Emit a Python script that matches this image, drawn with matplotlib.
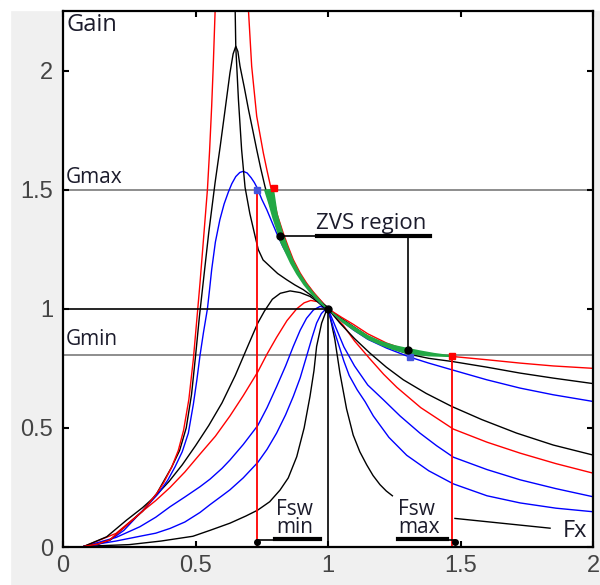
import matplotlib
matplotlib.use("Agg")
import matplotlib.pyplot as plt
from matplotlib.patches import Rectangle
import numpy as np

# gain curves (normalised frequency, gain)
red_a_x = [0.08, 0.13, 0.177, 0.234, 0.30, 0.354, 0.38, 0.41, 0.435, 0.455, 0.475, 0.492, 0.507, 0.517, 0.53,
           0.545, 0.553, 0.561, 0.567, 0.574, 0.60, 0.635, 0.67,
           0.70, 0.712, 0.731, 0.756, 0.77, 0.785, 0.81, 0.831, 0.85, 0.869, 0.895, 0.919, 0.945, 0.97, 1.0,
           1.05, 1.095, 1.15, 1.221, 1.28, 1.347, 1.467, 1.6, 1.725, 1.85, 2.0]
red_a_y = [0.003, 0.012, 0.03, 0.085, 0.15, 0.225, 0.27, 0.335, 0.405, 0.49, 0.62, 0.79, 0.98, 1.108, 1.29,
           1.5, 1.66, 1.85, 2.02, 2.25, 2.6, 2.9, 2.6,
           2.25, 2.018, 1.808, 1.654, 1.58, 1.505, 1.39, 1.318, 1.26, 1.206, 1.15, 1.108, 1.07, 1.038, 1.0,
           0.965, 0.935, 0.895, 0.856, 0.833, 0.815, 0.80, 0.786, 0.772, 0.76, 0.75]

peak_x = [0.649, 0.652, 0.662, 0.674, 0.687, 0.705, 0.725, 0.737, 0.755, 0.781, 0.81, 0.844, 0.875, 0.907,
          0.95, 0.995]
peak_y = [2.3, 2.10, 1.878, 1.668, 1.51, 1.40, 1.304, 1.248, 1.205, 1.178, 1.148, 1.122, 1.10, 1.08,
          1.045, 1.01]

black_b_x = [0.08, 0.13, 0.177, 0.234, 0.30, 0.354, 0.41, 0.44, 0.465, 0.485, 0.50, 0.515, 0.53, 0.55,
             0.574, 0.593, 0.611, 0.63, 0.642, 0.652, 0.66, 0.668, 0.684, 0.70, 0.716, 0.731, 0.746, 0.762,
             0.78, 0.80, 0.825, 0.85, 0.875, 0.90, 0.95, 1.0,
             1.05, 1.095, 1.15, 1.221, 1.303, 1.38, 1.467, 1.599, 1.725, 1.85, 2.0]
black_b_y = [0.003, 0.012, 0.03, 0.085, 0.15, 0.225, 0.335, 0.405, 0.50, 0.64, 0.80, 0.97, 1.12, 1.32,
             1.53, 1.68, 1.83, 1.99, 2.07, 2.102, 2.08, 2.018, 1.93, 1.836, 1.75, 1.668, 1.59, 1.514,
             1.44, 1.37, 1.29, 1.23, 1.175, 1.13, 1.06, 1.0,
             0.96, 0.926, 0.885, 0.842, 0.81, 0.792, 0.779, 0.755, 0.73, 0.709, 0.686]

blue_b_x = [0.08, 0.13, 0.177, 0.23, 0.278, 0.32, 0.36, 0.395, 0.423, 0.45, 0.473, 0.492, 0.505, 0.517, 0.53,
            0.545, 0.553, 0.561, 0.575, 0.592, 0.608, 0.624, 0.637, 0.652, 0.667, 0.68, 0.695, 0.71, 0.722,
            0.733, 0.75, 0.769, 0.79, 0.806, 0.83, 0.857, 0.88, 0.907, 0.94, 0.97, 1.0,
            1.05, 1.095, 1.15, 1.221, 1.309, 1.38, 1.467, 1.599, 1.725, 1.85, 2.0]
blue_b_y = [0.003, 0.01, 0.028, 0.07, 0.127, 0.175, 0.225, 0.28, 0.337, 0.40, 0.478, 0.60, 0.70, 0.804, 0.90,
            1.0, 1.08, 1.164, 1.28, 1.374, 1.44, 1.49, 1.525, 1.555, 1.572, 1.577, 1.57, 1.55, 1.53,
            1.507, 1.46, 1.416, 1.36, 1.318, 1.26, 1.206, 1.16, 1.122, 1.065, 1.024, 1.0,
            0.95, 0.912, 0.872, 0.835, 0.797, 0.772, 0.744, 0.702, 0.667, 0.639, 0.611]

black_c_x = [0.08, 0.165, 0.24, 0.30, 0.35, 0.40, 0.45, 0.50, 0.55, 0.60, 0.65, 0.70, 0.735, 0.76, 0.79,
             0.82, 0.857, 0.895, 0.932, 0.96, 0.982, 1.0,
             1.045, 1.1, 1.158, 1.22, 1.284, 1.37, 1.467, 1.58, 1.712, 1.85, 2.0]
black_c_y = [0.003, 0.043, 0.113, 0.165, 0.215, 0.275, 0.345, 0.425, 0.51, 0.605, 0.72, 0.85, 0.94, 0.99, 1.04,
             1.065, 1.075, 1.068, 1.052, 1.03, 1.008, 1.0,
             0.94, 0.875, 0.814, 0.755, 0.702, 0.645, 0.59, 0.535, 0.478, 0.428, 0.386]

red_c_x = [0.08, 0.2, 0.29, 0.35, 0.404, 0.46, 0.517, 0.575, 0.63, 0.68, 0.735, 0.77, 0.806, 0.845, 0.882, 0.91,
           0.935, 0.96, 0.98, 1.0,
           1.058, 1.1, 1.158, 1.21, 1.26, 1.35, 1.473, 1.6, 1.725, 1.86, 2.0]
red_c_y = [0.003, 0.057, 0.141, 0.195, 0.25, 0.315, 0.39, 0.465, 0.55, 0.635, 0.735, 0.81, 0.88, 0.95, 1.0, 1.025,
           1.035, 1.03, 1.015, 1.0,
           0.93, 0.865, 0.79, 0.725, 0.67, 0.585, 0.495, 0.44, 0.394, 0.35, 0.31]

blue_c_x = [0.08, 0.2, 0.29, 0.35, 0.404, 0.46, 0.517, 0.555, 0.6, 0.63, 0.68, 0.735, 0.77, 0.806, 0.84, 0.869,
            0.895, 0.919, 0.945, 0.97, 1.0,
            1.03, 1.06, 1.1, 1.15, 1.209, 1.272, 1.347, 1.41, 1.473, 1.6, 1.725, 1.86, 2.0]
blue_c_y = [0.003, 0.04, 0.085, 0.125, 0.169, 0.21, 0.253, 0.285, 0.33, 0.365, 0.43, 0.51, 0.585, 0.673, 0.76, 0.842,
            0.91, 0.96, 0.995, 1.01, 1.0,
            0.92, 0.84, 0.76, 0.68, 0.618, 0.55, 0.478, 0.425, 0.377, 0.325, 0.282, 0.245, 0.211]

blue_d_x = [0.08, 0.2, 0.29, 0.35, 0.404, 0.46, 0.517, 0.555, 0.6, 0.63, 0.68, 0.735, 0.77, 0.806, 0.84, 0.869,
            0.895, 0.919, 0.94, 0.957, 0.975, 0.989, 1.0,
            1.02, 1.04, 1.06, 1.08, 1.11, 1.14, 1.171, 1.23, 1.297, 1.38, 1.473, 1.6, 1.725, 1.86, 2.0]
blue_d_y = [0.003, 0.025, 0.045, 0.058, 0.078, 0.105, 0.145, 0.178, 0.215, 0.24, 0.29, 0.355, 0.41, 0.478, 0.555,
            0.632, 0.71, 0.80, 0.88, 0.94, 0.98, 0.996, 1.0,
            0.92, 0.85, 0.78, 0.72, 0.66, 0.61, 0.55, 0.46, 0.385, 0.32, 0.265, 0.215, 0.185, 0.163, 0.148]

black_d_x = [0.08, 0.25, 0.37, 0.49, 0.555, 0.63, 0.69, 0.735, 0.78, 0.819, 0.85, 0.882, 0.91, 0.932, 0.947,
             0.957, 0.976, 0.995, 1.0,
             1.013, 1.026, 1.045, 1.07, 1.095, 1.12, 1.146, 1.17, 1.196, 1.22, 1.243]
black_d_y = [0.003, 0.01, 0.025, 0.045, 0.07, 0.10, 0.13, 0.155, 0.19, 0.239, 0.29, 0.379, 0.50, 0.632, 0.74,
             0.842, 0.94, 0.996, 1.0,
             0.94, 0.87, 0.73, 0.58, 0.47, 0.40, 0.345, 0.30, 0.262, 0.235, 0.215]

# ZVS band (green), upper and lower edge
zvs_up_x = [0.796, 0.81, 0.831, 0.85, 0.869, 0.895, 0.919, 0.945, 0.97, 1.0, 1.05, 1.1, 1.15, 1.2, 1.25, 1.3,
            1.35, 1.4, 1.467]
zvs_up_y = [1.505, 1.40, 1.318, 1.26, 1.206, 1.15, 1.108, 1.07, 1.038, 1.0, 0.96, 0.925, 0.89, 0.865, 0.848,
            0.836, 0.825, 0.815, 0.805]
zvs_lo_x = [0.758, 0.775, 0.79, 0.805, 0.819, 0.84, 0.857, 0.88, 0.907, 0.94, 0.97, 1.0, 1.05, 1.1, 1.15, 1.2,
            1.25, 1.3, 1.38, 1.467]
zvs_lo_y = [1.50, 1.44, 1.38, 1.33, 1.28, 1.23, 1.19, 1.145, 1.10, 1.055, 1.02, 0.995, 0.945, 0.905, 0.87,
            0.845, 0.825, 0.81, 0.80, 0.797]

g_max = 1.5
g_min = 0.804
fsw_min = 0.733
fsw_max = 1.467
zvs_hi = (0.819, 1.304)
zvs_lo = (1.303, 0.825)

xticks = [0, 0.5, 1, 1.5, 2]
yticks = [0, 0.5, 1, 1.5, 2]
xtick_labels = ["0", "0.5", "1", "1.5", "2"]
ytick_labels = ["0", "0.5", "1", "1.5", "2"]

txt_col = "#1c1c2c"
lab_font = "Open Sans"

fig = plt.figure(figsize=(6, 5.85), dpi=100, facecolor="#f0f0f0")
fig.add_artist(Rectangle((0, 0), 10 / 600, 1, transform=fig.transFigure, color="white", zorder=-5))
fig.add_artist(Rectangle((0, 1 - 10 / 585), 1, 10 / 585, transform=fig.transFigure, color="white", zorder=-5))
ax = fig.add_axes([63 / 600, 1 - 547 / 585, 530 / 600, 536 / 585])
ax.set_facecolor("white")

curves = [
    (black_d_x, black_d_y, "black"),
    (blue_d_x, blue_d_y, "blue"),
    (blue_c_x, blue_c_y, "blue"),
    (red_c_x, red_c_y, "red"),
    (black_c_x, black_c_y, "black"),
    (blue_b_x, blue_b_y, "blue"),
    (black_b_x, black_b_y, "black"),
    (red_a_x, red_a_y, "red"),
    (peak_x, peak_y, "black"),
]
for cx, cy, col in curves:
    ax.plot(cx, cy, color=col, lw=1.0)

# reference lines
ax.axhline(g_max, color="#858585", lw=1.3, zorder=1)
ax.axhline(g_min, color="#858585", lw=1.3, zorder=1)
ax.plot([0, 1], [1, 1], color="black", lw=1.2)
ax.plot([1, 1], [0, 1], color="black", lw=1.2)
ax.plot([fsw_min, fsw_min], [0, g_max], color="red", lw=1.3)
ax.plot([fsw_max, fsw_max], [0, 0.80], color="red", lw=1.3)

ax.fill(np.r_[zvs_up_x, zvs_lo_x[::-1]], np.r_[zvs_up_y, zvs_lo_y[::-1]], color="#22a845", lw=0, zorder=4)

# markers
ax.plot(fsw_min, g_max, "s", color="#4455dd", ms=5, zorder=6)
ax.plot(0.796, 1.505, "s", color="red", ms=5, zorder=6)
ax.plot(1.309, 0.797, "s", color="#4455dd", ms=4, zorder=6)
ax.plot(fsw_max, 0.80, "s", color="red", ms=4, zorder=6)
ax.plot(*zvs_hi, "o", color="black", ms=5, zorder=7)
ax.plot(*zvs_lo, "o", color="black", ms=5, zorder=7)
ax.plot(1.0, 1.0, "o", color="black", ms=5, zorder=7)

# ZVS region bracket
ax.plot([zvs_hi[0], 1.385], [1.307, 1.307], color="black", lw=1.2, zorder=7)
ax.plot([0.957, 1.385], [1.307, 1.307], color="black", lw=3, zorder=7)
ax.plot([zvs_lo[0], zvs_lo[0]], [zvs_lo[1], 1.307], color="black", lw=1.2, zorder=7)
ax.text(0.955, 1.335, "ZVS region", fontsize=16, family=lab_font, color=txt_col, ha="left", va="baseline")

# Fsw min / max labels
ax.plot(fsw_min, 0.022, "o", color="black", ms=4, zorder=7)
ax.plot([fsw_min, 0.97], [0.03, 0.03], color="black", lw=1.2)
ax.plot([0.80, 0.97], [0.035, 0.035], color="black", lw=3)
ax.text(0.805, 0.058, "Fsw\nmin", fontsize=15, family=lab_font, color=txt_col, ha="left", va="baseline",
        linespacing=0.8)
ax.plot(1.479, 0.022, "o", color="black", ms=4, zorder=7)
ax.plot([1.264, 1.479], [0.03, 0.03], color="black", lw=1.2)
ax.plot([1.264, 1.449], [0.035, 0.035], color="black", lw=3)
ax.text(1.265, 0.058, "Fsw\nmax", fontsize=15, family=lab_font, color=txt_col, ha="left", va="baseline",
        linespacing=0.8)
ax.plot([1.479, 1.838], [0.12, 0.079], color="black", lw=1.0)
ax.text(1.885, 0.04, "Fx", fontsize=17, family=lab_font, color=txt_col, ha="left", va="baseline")

ax.text(0.012, 2.165, "Gain", fontsize=17, family=lab_font, color=txt_col, ha="left", va="baseline")
ax.text(0.012, 1.527, "Gmax", fontsize=15, family=lab_font, color=txt_col, ha="left", va="baseline")
ax.text(0.012, 0.849, "Gmin", fontsize=15, family=lab_font, color=txt_col, ha="left", va="baseline")

ax.set_xlim(0, 2)
ax.set_ylim(0, 2.25)
ax.set_xticks(xticks)
ax.set_xticklabels(xtick_labels)
ax.set_yticks(yticks)
ax.set_yticklabels(ytick_labels)
ax.tick_params(direction="in", length=4, width=1.5, top=True, right=True, labelsize=17,
               labelcolor="#444444")
ax.tick_params(axis="y", pad=7)
ax.tick_params(axis="x", pad=6)
for lab in ax.get_xticklabels() + ax.get_yticklabels():
    lab.set_family("Liberation Sans")
for s in ax.spines.values():
    s.set_linewidth(1.6)

fig.savefig("out.png", dpi=100, facecolor=fig.get_facecolor())
